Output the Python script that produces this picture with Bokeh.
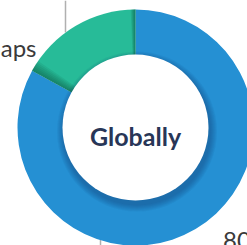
import numpy as np
from bokeh.plotting import figure
from bokeh.models import Range1d
from bokeh.core.properties import value
from bokeh.embed import file_html
from bokeh.resources import INLINE

# data
categories = ["Covered", "Gaps"]
shares = [83, 17]
colors = ["#2590d3", "#27bb98"]
center_label = "Globally"
left_label = "Gaps"
right_label = "80%"

W, H = 247, 245
p = figure(width=W, height=H, output_backend="svg", toolbar_location=None,
           x_range=Range1d(0, W), y_range=Range1d(0, H), min_border=0,
           background_fill_color="white", border_fill_color="white")
p.axis.visible = False
p.grid.visible = False
p.outline_line_color = None

cx, cy = 135, 118
r_out, r_in = 118, 73

vals = np.array(shares, dtype=float)
frac = vals / vals.sum()
ends = np.pi / 2 - 2 * np.pi * np.cumsum(frac)
starts = np.concatenate([[np.pi / 2], ends[:-1]])

# leader lines
p.segment(x0=[65, 100], y0=[H, 8], x1=[65, 100], y1=[H - 32, -2],
          line_color="#b0b0b0", line_width=1.5)

for s, e, c in zip(starts, ends, colors):
    p.wedge(x=cx, y=cy, radius=r_out, start_angle=e, end_angle=s,
            color=c, line_color=None)

# shading on the green slice next to the blue slice
g_s, g_e = starts[1], ends[1]
for k in range(6):
    p.wedge(x=cx, y=cy, radius=r_out, start_angle=g_s - np.radians(1 + k * 0.9),
            end_angle=g_s, color="#0b4a3a", alpha=0.10, line_color=None)
    p.wedge(x=cx, y=cy, radius=r_out, start_angle=g_e,
            end_angle=g_e + np.radians(0.6 + k * 0.35),
            color="#0b4a3a", alpha=0.10, line_color=None)

# shadow of the inner hole
for k in range(7):
    p.circle(x=cx + 1.5, y=cy - 4, radius=r_in + 7 - k,
             color="#0d3a63", alpha=0.06, line_color=None)

p.circle(x=cx, y=cy, radius=r_in, color="white", line_color=None)

p.text(x=cx, y=H - 135, text=[center_label], text_align="center",
       text_baseline="alphabetic", text_font=value("Lato"),
       text_font_style="bold", text_font_size="25px", text_color="#283657")
p.text(x=36, y=H - 47, text=[left_label], text_align="right",
       text_baseline="alphabetic", text_font=value("Lato"),
       text_font_size="24px", text_color="#3a3a3a")
p.text(x=222.5, y=H - 239, text=[right_label], text_align="left",
       text_baseline="alphabetic", text_font=value("Lato"),
       text_font_size="24px", text_color="#3a3a3a")

open("out.html", "w").write(file_html(p, INLINE))
